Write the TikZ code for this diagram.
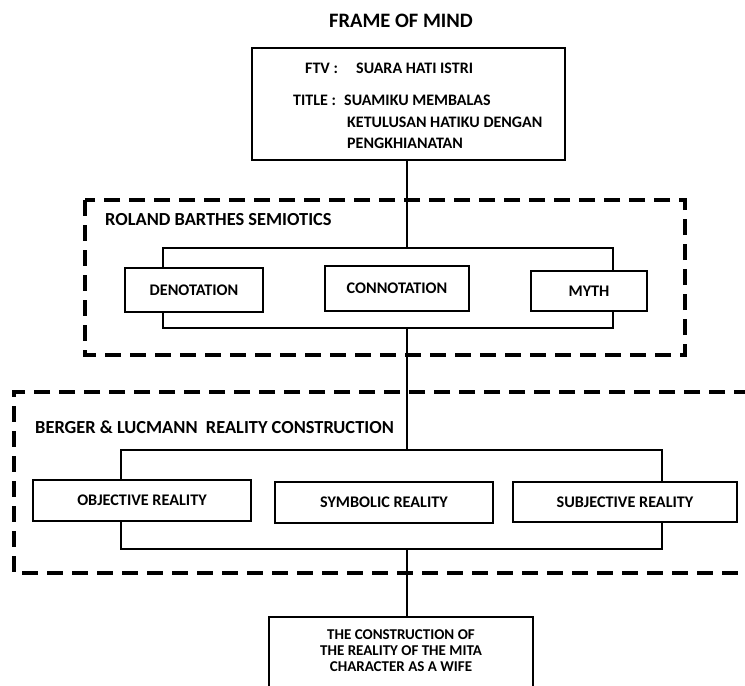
\documentclass[tikz,border=0pt]{standalone}
\usepackage{fontspec}
\setmainfont{Carlito}
\usepackage{tikz}
\usetikzlibrary{calc}
\tikzset{
  box/.style={draw=black, fill=white, line width=2.5pt, inner sep=0pt,
    font=\bfseries\fontsize{16.2}{19}\selectfont},
  frameLine/.style={draw=black, line width=2.2pt},
  link/.style={draw=black, line width=2.2pt},
  group/.style={draw=black, line width=3.2pt, dash pattern=on 16pt off 9pt},
  groupLabel/.style={anchor=base west, inner sep=0pt, font=\bfseries\fontsize{18.4}{22}\selectfont},
  ftvText/.style={anchor=base west, inner sep=0pt, font=\bfseries\fontsize{16}{19}\selectfont},
  resText/.style={inner sep=0pt, align=center, font=\bfseries\fontsize{15}{16}\selectfont}
}
\begin{document}
\begin{tikzpicture}[x=1pt, y=-1pt]
  \useasboundingbox (0,0) rectangle (745,686);
  \clip (0,0) rectangle (745,686);

  % title
  \node[font=\bfseries\fontsize{20.5}{24}\selectfont, inner sep=0pt] (title) at (401,21) {FRAME OF MIND};

  % ftv box
  \node[box, minimum width=313, minimum height=112] (ftv) at (408.5,104) {};
  \node[ftvText] (ftvKey) at (305,73) {FTV :};
  \node[ftvText] (ftvVal) at (356,73) {SUARA HATI ISTRI};
  \node[ftvText] (titleKey) at (293,105) {TITLE :};
  \node[ftvText] (titleA) at (344,105) {SUAMIKU MEMBALAS};
  \node[ftvText] (titleB) at (347,127) {KETULUSAN HATIKU DENGAN};
  \node[ftvText] (titleC) at (347,148) {PENGKHIANATAN};

  % barthes group
  \draw[group] (85,200) rectangle (685,355);
  \node[groupLabel] (barthes) at (105,225) {ROLAND BARTHES SEMIOTICS};
  \coordinate (f1top) at (407,248);
  \coordinate (f1bot) at (407,328);
  \draw[frameLine] (163,248) rectangle (613,328);
  \node[box, minimum width=138, minimum height=44] (deno) at (194,290) {DENOTATION};
  \node[box, minimum width=144, minimum height=45] (conno) at (397,288.5) {CONNOTATION};
  \node[box, minimum width=116, minimum height=40] (myth) at (589,291) {MYTH};

  % berger group
  \draw[group] (750,392) -- (14,392) -- (14,573) -- (750,573);
  \node[groupLabel] (berger) at (35,433) {BERGER \& LUCMANN\ \ REALITY CONSTRUCTION};
  \coordinate (f2top) at (407,450);
  \coordinate (f2bot) at (407,549);
  \draw[frameLine] (121,450) rectangle (662,549);
  \node[box, minimum width=218, minimum height=41] (objective) at (142,500.5) {OBJECTIVE REALITY};
  \node[box, minimum width=218, minimum height=41] (symbolic) at (384,502.5) {SYMBOLIC REALITY};
  \node[box, minimum width=224, minimum height=40] (subjective) at (625,502) {SUBJECTIVE REALITY};

  % result box
  \node[resText, minimum width=264, minimum height=68] (wife) at (401,651)
    {THE CONSTRUCTION OF\\THE REALITY OF THE MITA\\CHARACTER AS A WIFE};
  \draw[line width=2.5pt] ([yshift=-10pt]wife.south west) |- (wife.north east)
    -- ([yshift=-10pt]wife.south east);
  \coordinate (wifeTop) at (407,617);

  % links
  \draw[link] (f1top |- ftv.south) -- (f1top);
  \draw[link] (f1bot) -- (f2top);
  \draw[link] (f2bot) -- (wifeTop);
\end{tikzpicture}
\end{document}
